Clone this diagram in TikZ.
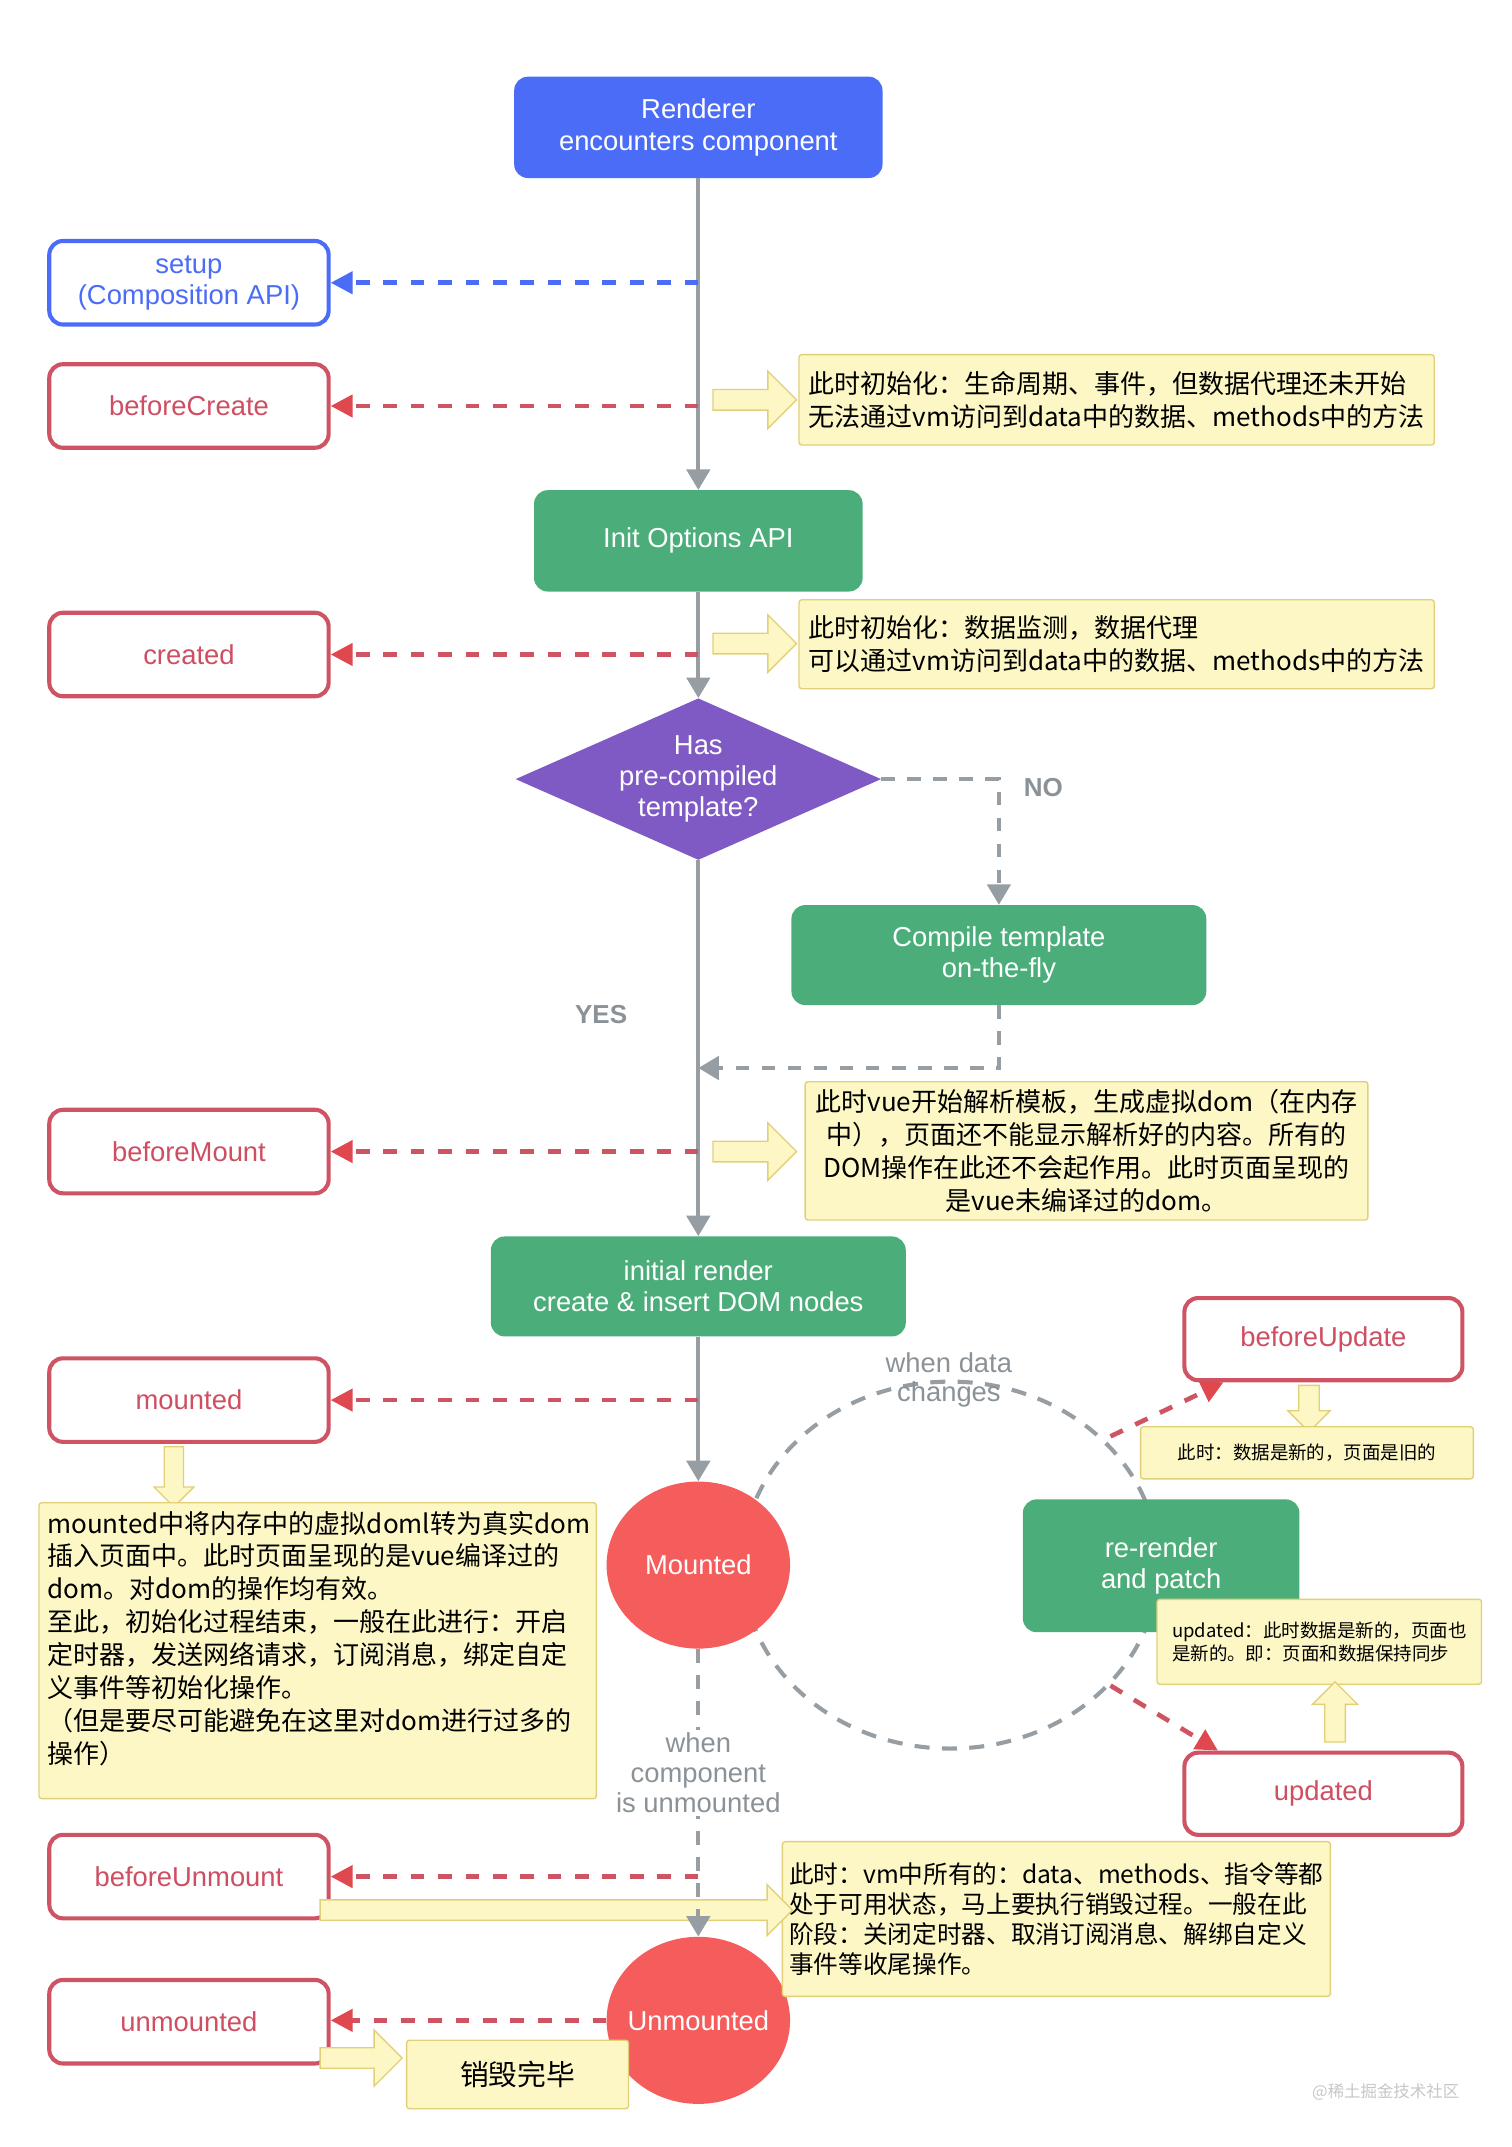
\documentclass[tikz,border=0pt]{standalone}
\usepackage{fontspec}
\setmainfont{Liberation Sans}
\newfontfamily\cjk{Noto Sans CJK SC}
\usepackage{tikz}
\usetikzlibrary{ shapes.geometric }
\usetikzlibrary{ shapes.arrows }
\usetikzlibrary{arrows.meta}
\usetikzlibrary{calc}

\definecolor{vueblue}{RGB}{74,108,247}
\definecolor{vuegreen}{RGB}{75,174,122}
\definecolor{vuepurple}{RGB}{128,90,196}
\definecolor{vuered}{RGB}{245,92,92}
\definecolor{hookred}{RGB}{206,84,100}
\definecolor{tipred}{RGB}{222,72,78}
\definecolor{hooktext}{RGB}{206,78,98}
\definecolor{notefill}{RGB}{252,247,196}
\definecolor{notebord}{RGB}{226,208,120}
\definecolor{flowgray}{RGB}{150,158,163}
\definecolor{textgray}{RGB}{138,146,152}

\begin{document}
\begin{tikzpicture} [
    x=1pt, y=-1pt,
    every node/.style = {font=\fontsize{20}{23}\selectfont, inner sep=0pt},
    stagebox/.style = {rectangle, rounded corners=10pt, fill=vuegreen, text=white, align=center},
    hookbox/.style = {rectangle, rounded corners=10pt, draw=hookred, line width=3pt, fill=white,
        text=hooktext, align=center, minimum width=204pt, minimum height=61pt},
    notebox/.style = {rectangle, rounded corners=2pt, draw=notebord, line width=1pt, fill=notefill,
        inner xsep=7pt, inner ysep=5pt, font=\cjk\fontsize{19}{24}\selectfont},
    smallnote/.style = {notebox, font=\cjk\fontsize{13.5}{17}\selectfont},
    yarrow/.style = {single arrow, draw=notebord, line width=1pt, fill=notefill, inner sep=7pt,
        minimum height=61pt, single arrow head extend=13.5pt},
    phase/.style = {ellipse, fill=vuered, text=white, inner sep=-5pt, minimum width=134pt, minimum height=122pt},
    answer/.style = {text=textgray, font=\bfseries\fontsize{19}{22}\selectfont},
    mainline/.style = {draw=flowgray, line width=3pt, -{Triangle[width=17pt,length=15pt]}},
    sideline/.style = {mainline, dash pattern=on 10pt off 9pt},
    loopline/.style = {draw=flowgray, line width=3pt, dash pattern=on 11pt off 9pt},
    hookline/.style = {draw=hookred, line width=3.4pt, dash pattern=on 10pt off 10pt,
        -{Triangle[width=16pt,length=16pt,color=tipred]}},
    setupline/.style = {hookline, draw=vueblue, -{Triangle[width=16pt,length=16pt,color=vueblue]}}
]
    \useasboundingbox (0,0) rectangle (1104,1568);

    % update loop behind the nodes
    \coordinate (loop) at (694,1143);
    \draw[loopline] (loop) ellipse [x radius=152, y radius=134];

    \node [stagebox, fill=vueblue, minimum width=269pt, minimum height=74pt] (render) at (510,93)
        {Renderer\\encounters component};
    \node [hookbox, draw=vueblue, text=vueblue] (setup) at (138,206.5) {setup\\(Composition API)};
    \node [hookbox] (beforecreate) at (138,296.5) {beforeCreate};
    \node [notebox, minimum width=459pt, minimum height=66pt, align=left] (note1) at (815.5,292)
        {此时初始化：生命周期、事件，但数据代理还未开始\\无法通过vm访问到data中的数据、methods中的方法};
    \node [yarrow] (push1) at (547.5,292) {};

    \node [stagebox, minimum width=240pt, minimum height=74pt] (initopt) at (510,395) {Init Options API};
    \node [hookbox] (created) at (138,478) {created};
    \node [notebox, minimum width=459pt, minimum height=65pt, align=left] (note2) at (815.5,470.5)
        {此时初始化：数据监测，数据代理\\可以通过vm访问到data中的数据、methods中的方法};
    \node [yarrow] (push2) at (547.5,470) {};

    \node [diamond, aspect=2.26, fill=vuepurple, text=white, align=center, minimum width=267pt,
        minimum height=118pt, font=\fontsize{20}{22.5}\selectfont] (template) at (510,569)
        {Has\\pre-compiled\\template?};
    \node [answer] (no) at (762,575) {NO};
    \node [stagebox, minimum width=303pt, minimum height=73pt] (compile) at (729.5,697.5)
        {Compile template\\on-the-fly};
    \node [answer] (yes) at (439,741) {YES};
    \coordinate (merge) at (510,780);

    \node [hookbox] (beforemount) at (138,841) {beforeMount};
    \node [notebox, minimum width=411pt, minimum height=101pt, align=center] (note3) at (793.5,840.5)
        {此时vue开始解析模板，生成虚拟dom（在内存\\中），页面还不能显示解析好的内容。所有的\\DOM操作在此还不会起作用。此时页面呈现的\\是vue未编译过的dom。};
    \node [yarrow] (push3) at (547.5,841) {};

    \node [stagebox, minimum width=303pt, minimum height=73pt] (initrender) at (510,939.5)
        {initial render\\create \& insert DOM nodes};
    \node [hookbox] (mounted) at (138,1022.5) {mounted};
    \node [yarrow, shape border rotate=270, minimum height=44pt, inner sep=6.5pt,
        single arrow head extend=7.5pt] (push4) at (127,1075) {};
    \node [notebox, anchor=north west, text width=395pt, align=left, inner sep=6pt] (note4) at (28,1097)
        {mounted中将内存中的虚拟doml转为真实dom\\插入页面中。此时页面呈现的是vue编译过的\\dom。对dom的操作均有效。\\至此，初始化过程结束，一般在此进行：开启\\定时器，发送网络请求，订阅消息，绑定自定\\义事件等初始化操作。\\（但是要尽可能避免在这里对dom进行过多的\\操作）\rule[-20pt]{0pt}{20pt}};

    \node [phase] (mountstate) at (510,1143) {Mounted};
    \node [font=\fontsize{20}{21}\selectfont, text=textgray, align=center] (datalabel) at (693,1008)
        {when data\\changes};
    \node [stagebox, minimum width=202pt, minimum height=97pt] (rerender) at (848,1143.5) {re-render\\and patch};
    \node [hookbox, minimum width=203pt, minimum height=60pt] (beforeupdate) at (966.5,978) {beforeUpdate};
    \node [yarrow, shape border rotate=270, minimum height=34pt, inner sep=7pt,
        single arrow head extend=8pt] (push5) at (956,1025) {};
    \node [smallnote, minimum width=243pt, minimum height=38pt] (note5) at (954.5,1061)
        {此时：数据是新的，页面是旧的};
    \node [smallnote, minimum width=237pt, minimum height=62pt, align=left] (note6) at (963.5,1199)
        {updated：此时数据是新的，页面也\\是新的。即：页面和数据保持同步};
    \node [yarrow, shape border rotate=90, minimum height=44pt, inner sep=7pt,
        single arrow head extend=9pt] (push6) at (975,1254) {};
    \node [hookbox, minimum width=203pt, minimum height=60pt] (updated) at (966.5,1310) {updated};

    \node [hookbox] (beforeunmount) at (138,1370.5) {beforeUnmount};
    \node [phase] (unmountstate) at (510,1475.5) {Unmounted};
    \node [notebox, minimum width=397pt, minimum height=113pt, align=left, inner xsep=5pt,
        font=\cjk\fontsize{18}{22}\selectfont] (note7) at (771.5,1401.5)
        {此时：vm中所有的：data、methods、指令等都\\处于可用状态，马上要执行销毁过程。一般在此\\阶段：关闭定时器、取消订阅消息、解绑自定义\\事件等收尾操作。};
    \node [yarrow, minimum height=345pt, single arrow head extend=11pt] (push7) at (402.5,1395) {};
    \node [hookbox] (unmounted) at (138,1476.5) {unmounted};
    \node [yarrow, minimum height=60pt, single arrow head extend=13pt] (push8) at (260,1503) {};
    \node [notebox, minimum width=162pt, minimum height=50pt, font=\cjk\fontsize{21}{24}\selectfont] (done)
        at (378,1515) {销毁完毕};
    \node [text=gray!45, font=\cjk\fontsize{12}{14}\selectfont] (mark) at (1012,1528) {@稀土掘金技术社区};

    \draw[mainline] (render) -- (initopt);
    \draw[mainline] (initopt) -- (template);
    \draw[mainline] (template) -- (initrender);
    \draw[mainline] (initrender) -- (mountstate);
    \draw[sideline] (template.east) -| (compile.north);
    \draw[sideline] (compile.south) |- (merge);
    \draw[sideline] (mountstate) -- node [pos=0.43, fill=white, inner sep=2pt, text=textgray, align=center,
        font=\fontsize{20}{22}\selectfont] (unmountlabel) {when\\component\\is unmounted} (unmountstate);

    \draw[setupline] (render |- setup) -- (setup.east);
    \draw[hookline] (render |- beforecreate) -- (beforecreate.east);
    \draw[hookline] (render |- created) -- (created.east);
    \draw[hookline] (render |- beforemount) -- (beforemount.east);
    \draw[hookline] (render |- mounted) -- (mounted.east);
    \draw[hookline] (render |- beforeunmount) -- (beforeunmount.east);
    \draw[hookline] (unmountstate.west) -- (unmountstate.west -| unmounted.east);

    \coordinate (leave) at (811,1049);
    \coordinate (back) at (811,1231);
    \draw[hookline] (leave) -- ([xshift=30pt]beforeupdate.south west);
    \draw[hookline] (back) -- ([xshift=26pt]updated.north west);
\end{tikzpicture}
\end{document}
